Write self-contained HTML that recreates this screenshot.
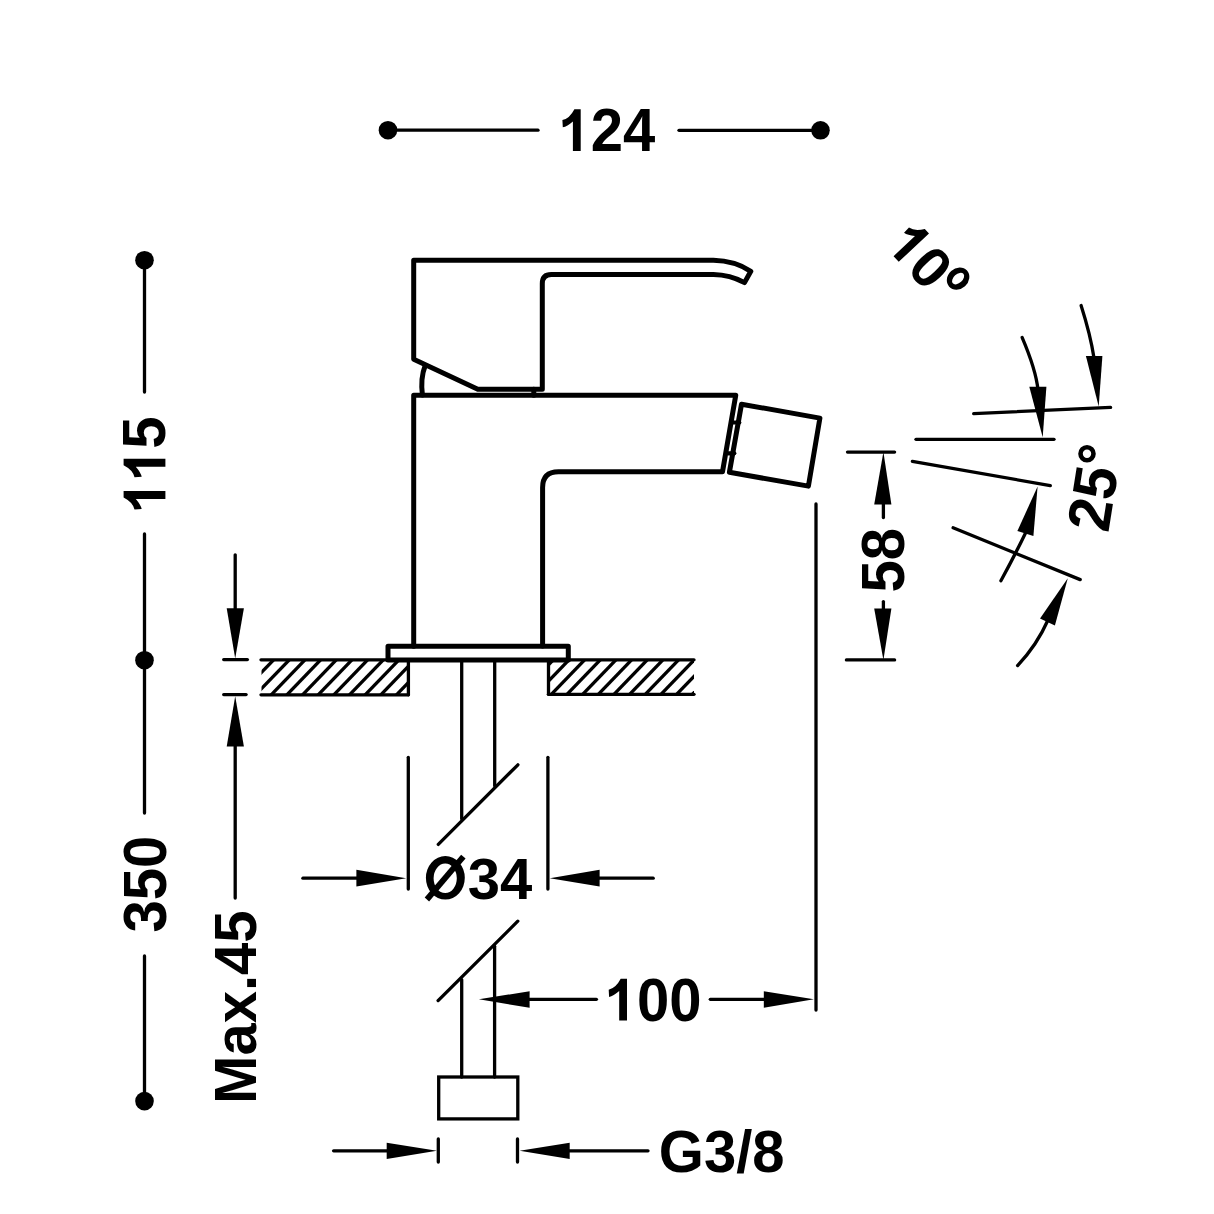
<!DOCTYPE html>
<html><head><meta charset="utf-8"><style>html,body{margin:0;padding:0;background:#fff;width:1214px;height:1214px;overflow:hidden} svg{display:block}</style></head>
<body><svg width="1214" height="1214" viewBox="0 0 1214 1214">
<defs>
<clipPath id="cl1"><rect x="261.5" y="660" width="146.9" height="35"/></clipPath><clipPath id="cl2"><rect x="548.5" y="660" width="145.5" height="35"/></clipPath>
</defs>
<g stroke="#000" stroke-linecap="round" fill="none">
<g stroke-width="3.3" stroke-linecap="butt"><g clip-path="url(#cl1)"><line x1="236.19" y1="650.0" x2="183.11" y2="705.0"/>
<line x1="251.85" y1="650.0" x2="198.77" y2="705.0"/>
<line x1="267.51" y1="650.0" x2="214.43" y2="705.0"/>
<line x1="283.17" y1="650.0" x2="230.09" y2="705.0"/>
<line x1="298.83" y1="650.0" x2="245.75" y2="705.0"/>
<line x1="314.49" y1="650.0" x2="261.41" y2="705.0"/>
<line x1="330.15" y1="650.0" x2="277.07" y2="705.0"/>
<line x1="345.81" y1="650.0" x2="292.73" y2="705.0"/>
<line x1="361.47" y1="650.0" x2="308.39" y2="705.0"/>
<line x1="377.13" y1="650.0" x2="324.05" y2="705.0"/>
<line x1="392.79" y1="650.0" x2="339.71" y2="705.0"/>
<line x1="408.45" y1="650.0" x2="355.37" y2="705.0"/>
<line x1="424.11" y1="650.0" x2="371.03" y2="705.0"/>
<line x1="439.77" y1="650.0" x2="386.69" y2="705.0"/>
<line x1="455.43" y1="650.0" x2="402.35" y2="705.0"/>
<line x1="471.09" y1="650.0" x2="418.01" y2="705.0"/>
<line x1="486.75" y1="650.0" x2="433.67" y2="705.0"/></g><g clip-path="url(#cl2)"><line x1="515.84" y1="650.0" x2="462.76" y2="705.0"/>
<line x1="531.50" y1="650.0" x2="478.42" y2="705.0"/>
<line x1="547.16" y1="650.0" x2="494.08" y2="705.0"/>
<line x1="562.82" y1="650.0" x2="509.74" y2="705.0"/>
<line x1="578.48" y1="650.0" x2="525.40" y2="705.0"/>
<line x1="594.14" y1="650.0" x2="541.06" y2="705.0"/>
<line x1="609.80" y1="650.0" x2="556.72" y2="705.0"/>
<line x1="625.46" y1="650.0" x2="572.38" y2="705.0"/>
<line x1="641.12" y1="650.0" x2="588.04" y2="705.0"/>
<line x1="656.78" y1="650.0" x2="603.70" y2="705.0"/>
<line x1="672.44" y1="650.0" x2="619.36" y2="705.0"/>
<line x1="688.10" y1="650.0" x2="635.02" y2="705.0"/>
<line x1="703.76" y1="650.0" x2="650.68" y2="705.0"/>
<line x1="719.42" y1="650.0" x2="666.34" y2="705.0"/>
<line x1="735.08" y1="650.0" x2="682.00" y2="705.0"/>
<line x1="750.74" y1="650.0" x2="697.66" y2="705.0"/>
<line x1="766.40" y1="650.0" x2="713.32" y2="705.0"/></g></g>
<circle cx="388" cy="130.2" r="9.3" fill="#000" stroke="none"/>
<circle cx="820.5" cy="130.3" r="9.3" fill="#000" stroke="none"/>
<line x1="388" y1="130.2" x2="538" y2="130.2" stroke-width="3.3"/>
<line x1="679" y1="130.3" x2="820.5" y2="130.3" stroke-width="3.3"/>
<g transform="translate(558.5,151)"><path fill="#000" stroke="none" d="M22.20,0.00 L22.20,-41.80 L15.90,-41.80 Q11.10,-32.45 3.90,-30.90 L4.30,-23.70 Q8.60,-24.60 14.40,-29.60 L14.40,0.00 Z"/><text fill="#000" stroke="none" font-family="Liberation Sans, sans-serif" font-weight="bold" font-size="58" x="32.26" y="0" transform="scale(1,1.04)">2</text><text fill="#000" stroke="none" font-family="Liberation Sans, sans-serif" font-weight="bold" font-size="58" x="64.51" y="0" transform="scale(1,1.04)">4</text></g>
<circle cx="144.5" cy="260.2" r="9.3" fill="#000" stroke="none"/>
<circle cx="144.5" cy="660.2" r="9.3" fill="#000" stroke="none"/>
<circle cx="144.5" cy="1101.1" r="9.3" fill="#000" stroke="none"/>
<line x1="144.5" y1="260" x2="144.5" y2="392" stroke-width="3.3"/>
<line x1="144.5" y1="534" x2="144.5" y2="660" stroke-width="3.3"/>
<line x1="144.5" y1="660" x2="144.5" y2="813" stroke-width="3.3"/>
<line x1="144.5" y1="956" x2="144.5" y2="1101" stroke-width="3.3"/>
<g transform="translate(165.4,513.3) rotate(-90)"><path fill="#000" stroke="none" d="M22.20,0.00 L22.20,-41.80 L15.90,-41.80 Q11.10,-32.45 3.90,-30.90 L4.30,-23.70 Q8.60,-24.60 14.40,-29.60 L14.40,0.00 Z"/><path fill="#000" stroke="none" d="M54.46,0.00 L54.46,-41.80 L48.16,-41.80 Q43.36,-32.45 36.16,-30.90 L36.56,-23.70 Q40.86,-24.60 46.66,-29.60 L46.66,0.00 Z"/><text fill="#000" stroke="none" font-family="Liberation Sans, sans-serif" font-weight="bold" font-size="58" x="64.51" y="0" transform="scale(1,1.04)">5</text></g>
<g transform="translate(166.2,932.6) rotate(-90)"><text fill="#000" stroke="none" font-family="Liberation Sans, sans-serif" font-weight="bold" font-size="58" x="0.00" y="0" transform="scale(1,1.04)">3</text><text fill="#000" stroke="none" font-family="Liberation Sans, sans-serif" font-weight="bold" font-size="58" x="32.26" y="0" transform="scale(1,1.04)">5</text><text fill="#000" stroke="none" font-family="Liberation Sans, sans-serif" font-weight="bold" font-size="58" x="64.51" y="0" transform="scale(1,1.04)">0</text></g>
<path d="M713.4,260.3 L413.7,260.3 L413.7,359.2 L477.8,389.2 L542.3,389.2 L542.3,283.5 Q542.3,274.5 551.3,274.5 L713.4,274.5 Q730,274.8 744.5,282.6 L750.8,271.3 Q735,260.8 713.4,260.3 Z" stroke-width="5.0" fill="none" stroke-linejoin="round"/>
<path d="M422.4,395 Q420.3,378 425.2,365.5" stroke-width="5.0" fill="none" />
<line x1="533.8" y1="389.2" x2="533.8" y2="395.2" stroke-width="5.0"/>
<path d="M413.7,646.3 L413.7,395.2 L735.75,395.2 L722.5,471.7 L558.5,471.7 Q542.6,471.7 542.6,487.5 L542.6,646" stroke-width="5.0" fill="none" stroke-linejoin="round"/>
<path d="M388,660 L388,646.3 L568.3,646.3 L568.3,660 Z" stroke-width="5.0" fill="none" stroke-linejoin="round"/>
<line x1="261" y1="659.8" x2="694" y2="659.8" stroke-width="3.3"/>
<path d="M741.5,404.2 L819.9,418.1 L808.4,486.1 L729.4,472.3 Z" stroke-width="5.0" fill="none" stroke-linejoin="round"/>
<line x1="733.3" y1="422.5" x2="739.3" y2="422.5" stroke-width="4.2"/>
<line x1="728.3" y1="453.3" x2="734.3" y2="453.3" stroke-width="4.2"/>
<line x1="261" y1="694.8" x2="408.4" y2="694.8" stroke-width="3.3"/>
<line x1="408.4" y1="659.8" x2="408.4" y2="694.8" stroke-width="3.3"/>
<line x1="548.5" y1="694.3" x2="694" y2="694.3" stroke-width="3.3"/>
<line x1="548.5" y1="659.8" x2="548.5" y2="694.3" stroke-width="3.3"/>
<line x1="461.7" y1="660" x2="461.7" y2="818.8" stroke-width="3.3"/>
<line x1="494.7" y1="660" x2="494.7" y2="785.7" stroke-width="3.3"/>
<line x1="438.3" y1="844.4" x2="517.9" y2="764.8" stroke-width="3.3"/>
<line x1="438.1" y1="1000.6" x2="517.8" y2="921.2" stroke-width="3.3"/>
<line x1="461.7" y1="979.7" x2="461.7" y2="1077" stroke-width="3.3"/>
<line x1="494.6" y1="946.2" x2="494.6" y2="1077" stroke-width="3.3"/>
<rect x="438.7" y="1077" width="79.1" height="41.9" fill="none" stroke-width="3.3"/>
<line x1="408.3" y1="757.3" x2="408.3" y2="889" stroke-width="3.3"/>
<line x1="547.9" y1="757.3" x2="547.9" y2="889" stroke-width="3.3"/>
<line x1="302.9" y1="878.2" x2="358" y2="878.2" stroke-width="3.3"/>
<polygon points="356.4,869.8 406.2,878.2 356.4,886.4" fill="#000" stroke="none"/>
<line x1="598" y1="878.2" x2="653.2" y2="878.2" stroke-width="3.3"/>
<polygon points="599.6,869.8 549.8,878.2 599.6,886.4" fill="#000" stroke="none"/>
<path fill="#000" stroke="none" fill-rule="evenodd" d="M425.9,877.85 A19.45,21.75 0 1 0 464.8,877.85 A19.45,21.75 0 1 0 425.9,877.85 Z M433.6,878.3 A11.6,14.7 0 1 0 456.8,878.3 A11.6,14.7 0 1 0 433.6,878.3 Z"/>
<line x1="426.9" y1="899.5" x2="463.35" y2="856.6" stroke-width="5.8" stroke-linecap="butt"/>
<g transform="translate(467.8,899)"><text fill="#000" stroke="none" font-family="Liberation Sans, sans-serif" font-weight="bold" font-size="58" x="0.00" y="0" transform="scale(1,1.0)">3</text><text fill="#000" stroke="none" font-family="Liberation Sans, sans-serif" font-weight="bold" font-size="58" x="32.26" y="0" transform="scale(1,1.0)">4</text></g>
<polygon points="529.6,991.2 478.9,999.3 529.6,1007.8" fill="#000" stroke="none"/>
<line x1="528" y1="999.3" x2="596.4" y2="999.3" stroke-width="3.3"/>
<g transform="translate(604.8,1020.6)"><path fill="#000" stroke="none" d="M22.20,0.00 L22.20,-41.80 L15.90,-41.80 Q11.10,-32.45 3.90,-30.90 L4.30,-23.70 Q8.60,-24.60 14.40,-29.60 L14.40,0.00 Z"/><text fill="#000" stroke="none" font-family="Liberation Sans, sans-serif" font-weight="bold" font-size="58" x="32.26" y="0" transform="scale(1,1.04)">0</text><text fill="#000" stroke="none" font-family="Liberation Sans, sans-serif" font-weight="bold" font-size="58" x="64.51" y="0" transform="scale(1,1.04)">0</text></g>
<line x1="710.3" y1="999.3" x2="765" y2="999.3" stroke-width="3.3"/>
<polygon points="763.8,991.2 813.9,999.3 763.8,1007.8" fill="#000" stroke="none"/>
<line x1="816" y1="504" x2="816" y2="1010" stroke-width="3.3"/>
<line x1="333.6" y1="1150.8" x2="388" y2="1150.8" stroke-width="3.3"/>
<polygon points="386.7,1142.7 436.9,1150.8 386.7,1159" fill="#000" stroke="none"/>
<line x1="438.3" y1="1139" x2="438.3" y2="1162" stroke-width="3.3"/>
<line x1="517.5" y1="1139" x2="517.5" y2="1162" stroke-width="3.3"/>
<polygon points="569.7,1142.7 519.6,1150.8 569.7,1159" fill="#000" stroke="none"/>
<line x1="568" y1="1150.8" x2="648" y2="1150.8" stroke-width="3.3"/>
<g transform="translate(658.8,1172)"><text fill="#000" stroke="none" font-family="Liberation Sans, sans-serif" font-weight="bold" font-size="58" x="0.00" y="0" transform="scale(1,1.03)">G</text><text fill="#000" stroke="none" font-family="Liberation Sans, sans-serif" font-weight="bold" font-size="58" x="45.11" y="0" transform="scale(1,1.03)">3</text><text fill="#000" stroke="none" font-family="Liberation Sans, sans-serif" font-weight="bold" font-size="58" x="77.37" y="0" transform="scale(1,1.03)">/</text><text fill="#000" stroke="none" font-family="Liberation Sans, sans-serif" font-weight="bold" font-size="58" x="93.49" y="0" transform="scale(1,1.03)">8</text></g>
<line x1="235.2" y1="554.8" x2="235.2" y2="610" stroke-width="3.3"/>
<polygon points="226.7,608.2 235.2,658.6 243.9,608.2" fill="#000" stroke="none"/>
<line x1="223.7" y1="659.6" x2="247.4" y2="659.6" stroke-width="3.3"/>
<line x1="223.7" y1="694.6" x2="246.1" y2="694.6" stroke-width="3.3"/>
<polygon points="226.7,746.6 235.2,696.2 243.9,746.6" fill="#000" stroke="none"/>
<line x1="235.2" y1="745" x2="235.2" y2="898" stroke-width="3.3"/>
<g transform="translate(255.9,1103.9) rotate(-90)"><text fill="#000" stroke="none" font-family="Liberation Sans, sans-serif" font-weight="bold" font-size="58" x="0.00" y="0" transform="scale(1,1.02)">M</text><text fill="#000" stroke="none" font-family="Liberation Sans, sans-serif" font-weight="bold" font-size="58" x="48.31" y="0" transform="scale(1,1.02)">a</text><text fill="#000" stroke="none" font-family="Liberation Sans, sans-serif" font-weight="bold" font-size="58" x="80.57" y="0" transform="scale(1,1.02)">x</text><text fill="#000" stroke="none" font-family="Liberation Sans, sans-serif" font-weight="bold" font-size="58" x="112.83" y="0" transform="scale(1,1.02)">.</text><text fill="#000" stroke="none" font-family="Liberation Sans, sans-serif" font-weight="bold" font-size="58" x="128.94" y="0" transform="scale(1,1.02)">4</text><text fill="#000" stroke="none" font-family="Liberation Sans, sans-serif" font-weight="bold" font-size="58" x="161.20" y="0" transform="scale(1,1.02)">5</text></g>
<line x1="847.5" y1="452.1" x2="894.6" y2="452.1" stroke-width="3.3"/>
<line x1="846.4" y1="659.9" x2="894.6" y2="659.9" stroke-width="3.3"/>
<polygon points="883.4,452.1 874.2,504.6 891.4,504.6" fill="#000" stroke="none"/>
<line x1="883.4" y1="503" x2="883.4" y2="517.5" stroke-width="3.3"/>
<polygon points="883.4,659.9 874.2,608.5 891.4,608.5" fill="#000" stroke="none"/>
<line x1="883.4" y1="601.6" x2="883.4" y2="610" stroke-width="3.3"/>
<g transform="translate(904.2,592.6) rotate(-90)"><text fill="#000" stroke="none" font-family="Liberation Sans, sans-serif" font-weight="bold" font-size="58" x="0.00" y="0" transform="scale(1,1.04)">5</text><text fill="#000" stroke="none" font-family="Liberation Sans, sans-serif" font-weight="bold" font-size="58" x="32.26" y="0" transform="scale(1,1.04)">8</text></g>
<line x1="916" y1="439.3" x2="1054" y2="439.3" stroke-width="3.3"/>
<line x1="973.7" y1="413.6" x2="1110.6" y2="407.4" stroke-width="3.3"/>
<line x1="912.4" y1="461.3" x2="1050.3" y2="485.6" stroke-width="3.3"/>
<line x1="953.1" y1="527.8" x2="1080.2" y2="579.6" stroke-width="3.3"/>
<path d="M1022.1,337.4 Q1036,370 1038,390" stroke-width="3.3" fill="none" />
<polygon points="1029.3,386.8 1042.7,437.3 1046.4,386.8" fill="#000" stroke="none"/>
<path d="M1081.1,305.5 Q1090.5,335 1094,358" stroke-width="3.3" fill="none" />
<polygon points="1085.9,355.9 1098.7,406.4 1102.4,355.9" fill="#000" stroke="none"/>
<path d="M1000.9,580.7 Q1015,555 1026,532" stroke-width="3.3" fill="none" />
<polygon points="1017.4,530.9 1037.6,486.6 1033.4,536" fill="#000" stroke="none"/>
<path d="M1017.6,665.6 Q1037,645 1048,620" stroke-width="3.3" fill="none" />
<polygon points="1040,618.4 1067.8,578.3 1054.9,625.6" fill="#000" stroke="none"/>
<g transform="matrix(0.6621,0.7269,-0.7235,0.6768,884.04,245.69)"><path fill="#000" stroke="none" d="M22.20,0.00 L22.20,-41.80 L15.90,-41.80 Q11.10,-32.45 3.90,-30.90 L4.30,-23.70 Q8.60,-24.60 14.40,-29.60 L14.40,0.00 Z"/><text fill="#000" stroke="none" font-family="Liberation Sans, sans-serif" font-weight="bold" font-size="58" x="32.26" y="0" transform="scale(1,1.0)">0</text></g>
<g transform="translate(1108.2,533.6) rotate(-81)"><text fill="#000" stroke="none" font-family="Liberation Sans, sans-serif" font-weight="bold" font-size="58" x="0.00" y="0" transform="scale(1,1.04)">2</text><text fill="#000" stroke="none" font-family="Liberation Sans, sans-serif" font-weight="bold" font-size="58" x="32.26" y="0" transform="scale(1,1.04)">5</text></g>
<path transform="translate(958.1,278.6) rotate(-42)" fill="#000" stroke="none" fill-rule="evenodd" d="M-12,0 A12,10.3 0 1 0 12,0 A12,10.3 0 1 0 -12,0 Z M-7.1,0 A7.1,4.4 0 1 0 7.1,0 A7.1,4.4 0 1 0 -7.1,0 Z"/>
<circle cx="1087" cy="453.8" r="6.5" fill="none" stroke="#000" stroke-width="4.6"/>
</g>
</svg></body></html>
